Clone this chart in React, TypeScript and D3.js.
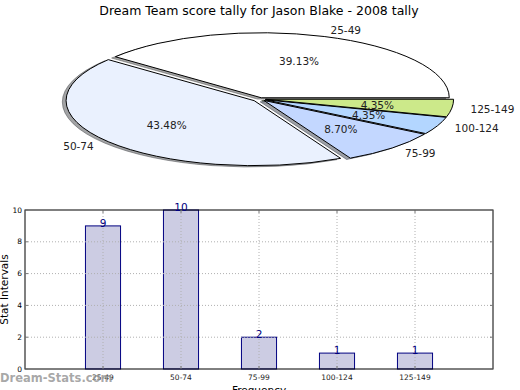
import React, { useRef, useLayoutEffect } from 'react';
import * as d3 from 'd3';

const categories = ['25-49', '50-74', '75-99', '100-124', '125-149'];
const tallies = [9, 10, 2, 1, 1];
const pieColors = ['#ffffff', '#eaf1fe', '#c3d7ff', '#b3d6ff', '#cce98a'];
const explode = [0.02, 0.04, 0.03, 0.03, 0.03];
const yTicks = [0, 2, 4, 6, 8, 10];

const FONT = '"DejaVu Sans", sans-serif';

const App: React.FC = () => {
  const ref = useRef<SVGSVGElement>(null);

  useLayoutEffect(() => {
    const svg = d3.select(ref.current);
    svg.selectAll('*').remove();

    // title
    svg
      .append('text')
      .attr('x', 259)
      .attr('y', 15)
      .attr('text-anchor', 'middle')
      .style('font-size', '12.5px')
      .text('Dream Team score tally for Jason Blake - 2008 tally');

    // ---- pie (squashed ellipse, matplotlib-like) ----
    const cx = 260;
    const cy = 99;
    const rx = 188;
    const ry = 65;
    const total = d3.sum(tallies);

    const pie = d3
      .pie<number>()
      .value((d) => d)
      .sort(null)
      .startAngle(Math.PI / 2)
      .endAngle(Math.PI / 2 - 2 * Math.PI);
    const arcs = pie(tallies);
    const arc = d3.arc<any>().innerRadius(0).outerRadius(1);

    const centers = arcs.map((a, i) => {
      const m = (a.startAngle + a.endAngle) / 2;
      const dx = Math.sin(m);
      const dy = -Math.cos(m);
      return {
        x: cx + dx * explode[i] * rx,
        y: cy + dy * explode[i] * ry,
        dx,
        dy,
      };
    });

    const pieG = svg.append('g');

    // shadows first (they sit below every wedge)
    arcs.forEach((a, i) => {
      const c = centers[i];
      const col = d3.rgb(pieColors[i]);
      const shade = d3.rgb(col.r * 0.3, col.g * 0.3, col.b * 0.3);
      pieG
        .append('path')
        .attr('d', arc(a))
        .attr(
          'transform',
          `translate(${c.x - 0.02 * rx},${c.y + 0.02 * ry}) scale(${rx},${ry})`
        )
        .attr('fill', shade.toString())
        .attr('fill-opacity', 0.5)
        .attr('stroke', shade.toString())
        .attr('stroke-opacity', 0.5)
        .attr('stroke-width', 1)
        .attr('vector-effect', 'non-scaling-stroke');
    });

    arcs.forEach((a, i) => {
      const c = centers[i];
      pieG
        .append('path')
        .attr('d', arc(a))
        .attr('transform', `translate(${c.x},${c.y}) scale(${rx},${ry})`)
        .attr('fill', pieColors[i])
        .attr('stroke', '#000')
        .attr('stroke-width', 1)
        .attr('stroke-linejoin', 'round')
        .attr('vector-effect', 'non-scaling-stroke');
    });

    arcs.forEach((a, i) => {
      const c = centers[i];
      pieG
        .append('text')
        .attr('x', c.x + 1.1 * rx * c.dx)
        .attr('y', c.y + 1.1 * ry * c.dy)
        .attr('text-anchor', c.dx > 0 ? 'start' : 'end')
        .attr('dominant-baseline', 'central')
        .style('font-size', '10.5px')
        .attr('fill', '#222')
        .text(categories[i]);
      pieG
        .append('text')
        .attr('x', c.x + 0.6 * rx * c.dx)
        .attr('y', c.y + 0.6 * ry * c.dy)
        .attr('text-anchor', 'middle')
        .attr('dominant-baseline', 'central')
        .style('font-size', '10.5px')
        .attr('fill', '#222')
        .text(`${((100 * tallies[i]) / total).toFixed(2)}%`);
    });

    // ---- bar chart ----
    const left = 25;
    const right = 493;
    const top = 210;
    const bottom = 369;

    const x = d3.scaleLinear().domain([-1, 5]).range([left, right]);
    const y = d3.scaleLinear().domain([0, 10]).range([bottom, top]);
    const barW = 0.45;

    const g = svg.append('g');

    g.selectAll('rect.bar')
      .data(tallies)
      .enter()
      .append('rect')
      .attr('class', 'bar')
      .attr('x', (_d, i) => x(i - barW / 2))
      .attr('y', (d) => y(d))
      .attr('width', x(barW) - x(0))
      .attr('height', (d) => y(0) - y(d))
      .attr('fill', '#cccce3')
      .attr('stroke', '#000080')
      .attr('stroke-width', 1);

    // dotted grid on top of bars
    g.selectAll('line.vgrid')
      .data(categories)
      .enter()
      .append('line')
      .attr('x1', (_d, i) => x(i))
      .attr('x2', (_d, i) => x(i))
      .attr('y1', top)
      .attr('y2', bottom)
      .attr('stroke', '#b0b0b0')
      .attr('stroke-dasharray', '1,2');

    g.selectAll('line.hgrid')
      .data(yTicks.slice(1, -1))
      .enter()
      .append('line')
      .attr('x1', left)
      .attr('x2', right)
      .attr('y1', (d) => y(d))
      .attr('y2', (d) => y(d))
      .attr('stroke', '#b0b0b0')
      .attr('stroke-dasharray', '1,2');

    g.append('rect')
      .attr('x', left)
      .attr('y', top)
      .attr('width', right - left)
      .attr('height', bottom - top)
      .attr('fill', 'none')
      .attr('stroke', '#000')
      .attr('stroke-width', 1);

    // ticks (inward) and tick labels
    yTicks.forEach((t) => {
      g.append('line')
        .attr('x1', left)
        .attr('x2', left + 3)
        .attr('y1', y(t))
        .attr('y2', y(t))
        .attr('stroke', '#777');
      g.append('line')
        .attr('x1', right - 3)
        .attr('x2', right)
        .attr('y1', y(t))
        .attr('y2', y(t))
        .attr('stroke', '#777');
      g.append('text')
        .attr('x', left - 3)
        .attr('y', y(t))
        .attr('text-anchor', 'end')
        .attr('dominant-baseline', 'central')
        .style('font-size', '7.5px')
        .text(t);
    });

    categories.forEach((c, i) => {
      g.append('line')
        .attr('x1', x(i))
        .attr('x2', x(i))
        .attr('y1', bottom)
        .attr('y2', bottom - 3)
        .attr('stroke', '#777');
      g.append('line')
        .attr('x1', x(i))
        .attr('x2', x(i))
        .attr('y1', top)
        .attr('y2', top + 3)
        .attr('stroke', '#777');
      g.append('text')
        .attr('x', x(i))
        .attr('y', bottom + 11)
        .attr('text-anchor', 'middle')
        .style('font-size', '7.5px')
        .attr('fill', '#222')
        .text(c);
    });

    // value labels
    g.selectAll('text.val')
      .data(tallies)
      .enter()
      .append('text')
      .attr('x', (_d, i) => x(i))
      .attr('y', (d) => y(d) + 1)
      .attr('text-anchor', 'middle')
      .style('font-size', '10.5px')
      .attr('fill', '#000080')
      .text((d) => d);

    g.append('text')
      .attr('transform', `translate(8,${(top + bottom) / 2}) rotate(-90)`)
      .attr('text-anchor', 'middle')
      .style('font-size', '10.5px')
      .text('Stat Intervals');

    g.append('text')
      .attr('x', x(2))
      .attr('y', 394)
      .attr('text-anchor', 'middle')
      .style('font-size', '10.5px')
      .text('Frequency');

    // watermark
    svg
      .append('text')
      .attr('x', 0)
      .attr('y', 382)
      .style('font-size', '11.5px')
      .style('font-weight', 'bold')
      .attr('fill', '#999')
      .attr('fill-opacity', 0.85)
      .text('Dream-Stats.com');
  }, []);

  return (
    <svg
      ref={ref}
      width={520}
      height={390}
      style={{
        position: 'absolute',
        left: 0,
        top: 0,
        fontFamily: FONT,
        background: '#fff',
      }}
    />
  );
};

export default App;
